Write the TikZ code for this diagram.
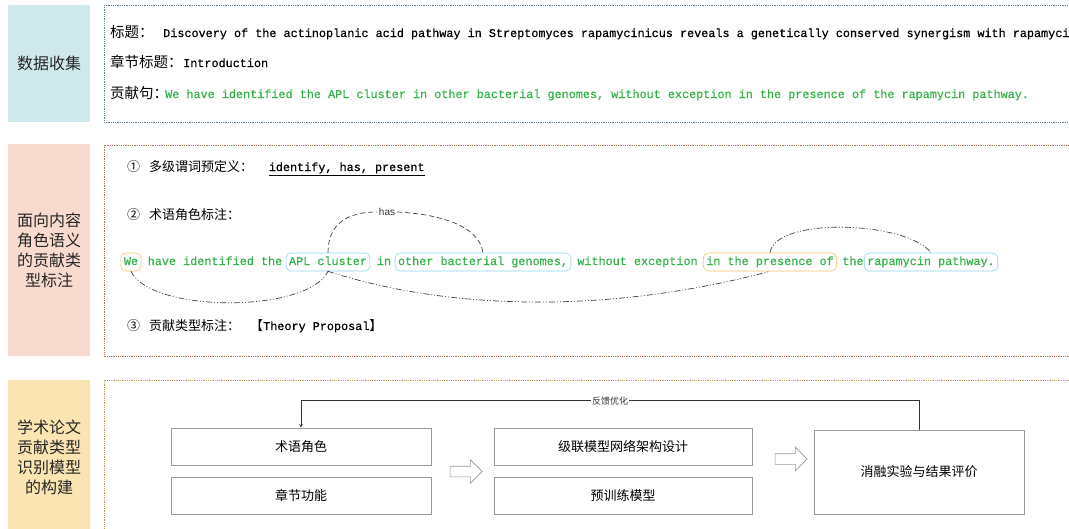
\documentclass[tikz,border=0pt]{standalone}
\usepackage{fontspec}
\setmonofont{Liberation Mono}[FakeBold=0.5]
\newfontfamily\cjk{Noto Sans CJK SC}
\newfontfamily\hasfont{Liberation Sans}
\usetikzlibrary{arrows,shapes.arrows}
\definecolor{tealbg}{RGB}{207,232,235}
\definecolor{salmonbg}{RGB}{248,219,206}
\definecolor{sandbg}{RGB}{250,229,178}
\definecolor{frameA}{RGB}{95,125,150}
\definecolor{frameB}{RGB}{190,110,75}
\definecolor{frameC}{RGB}{185,160,80}
\definecolor{sentgreen}{RGB}{55,178,75}
\definecolor{roleblue}{RGB}{140,210,235}
\definecolor{roleorange}{RGB}{245,195,105}
\newcommand{\zhL}{\cjk\fontsize{16}{20}\selectfont}
\newcommand{\zhA}{\cjk\fontsize{14.5}{16}\selectfont}
\newcommand{\zhB}{\cjk\fontsize{13}{15}\selectfont}
\newcommand{\zhS}{\cjk\fontsize{9}{10}\selectfont}
\newcommand{\mono}{\ttfamily\fontsize{11.8}{14}\selectfont}
\tikzstyle{stage} = [inner sep=0pt, minimum width=82pt, align=center, text=black!85, font=\zhL]
\tikzstyle{frame} = [densely dotted, line width=0.8pt]
\tikzstyle{txtline} = [anchor=base west, inner sep=0pt, font=\mono]
\tikzstyle{word} = [inner sep=0pt, text=sentgreen, font=\mono, text height=8pt, text depth=2pt]
\tikzstyle{role} = [word, rounded corners=5pt, inner xsep=3pt, minimum height=18pt, line width=0.6pt]
\tikzstyle{link} = [dash pattern=on 5pt off 3pt, black!75, line width=0.7pt]
\tikzstyle{chain} = [dash pattern=on 6pt off 2pt on 1pt off 2pt on 1pt off 2pt, black!75, line width=0.7pt]
\tikzstyle{blk} = [draw=gray!80, line width=0.6pt, font=\zhB, minimum height=37pt]
\tikzstyle{hollow} = [single arrow, draw=gray!80, fill=white, line width=0.6pt, minimum height=32pt, inner xsep=0pt, inner ysep=5pt, single arrow head extend=6.5pt]
\tikzstyle{fleche} = [->,>=stealth,line width=0.7pt,black!80]

\begin{document}
\begin{tikzpicture}[x=1pt,y=-1pt]
	\useasboundingbox (0,0) rectangle (1069,528);
	\clip (0,0) rectangle (1069,528);

	% stages on the left
	\node[stage, fill=tealbg, minimum height=117pt] (lblA) at (49,63.5) {数据收集};
	\node[stage, fill=salmonbg, minimum height=212pt] (lblB) at (49,250) {面向内容\\角色语义\\的贡献类\\型标注};
	\node[stage, fill=sandbg, minimum height=155pt] (lblC) at (49,457.5) {学术论文\\贡献类型\\识别模型\\的构建};

	\draw[frame, frameA] (104,5) rectangle (1080,122);
	\draw[frame, frameB] (104,145) rectangle (1080,356);
	\draw[frame, frameC] (104,380) rectangle (1080,540);

	% data collection
	\node[txtline] (title) at (110,37) {\makebox[53pt][l]{\zhA 标题：}Discovery of the actinoplanic acid pathway in Streptomyces rapamycinicus reveals a genetically conserved synergism with rapamycin};
	\node[txtline] (section) at (110,67) {\makebox[73pt][l]{\zhA 章节标题：}Introduction};
	\node[txtline] (contrib) at (110,98) {\makebox[55pt][l]{\zhA 贡献句：}\textcolor{sentgreen}{We have identified the APL cluster in other bacterial genomes, without exception in the presence of the rapamycin pathway.}};

	% annotation
	\node[txtline] (predef) at (127,171) {\makebox[22pt][l]{\zhB ①}\makebox[119.6pt][l]{\zhB 多级谓词预定义：}\underline{identify, has, present}};
	\node[txtline] (roles) at (127,219) {\makebox[22pt][l]{\zhB ②}{\zhB 术语角色标注：}};
	\node[txtline] (ctype) at (127,330) {\makebox[22pt][l]{\zhB ③}\makebox[101pt][l]{\zhB 贡献类型标注：}{\zhB 【}Theory Proposal{\zhB 】}};

	\node[role, draw=roleorange] (we) at (131,262) {We};
	\node[word] (have) at (215,262) {have identified the};
	\node[role, draw=roleblue] (apl) at (328,262) {APL cluster};
	\node[word] (in) at (384,262) {in};
	\node[role, draw=roleblue] (gen) at (483,262) {other bacterial genomes,};
	\node[word] (without) at (637.5,262) {without exception};
	\node[role, draw=roleorange] (pres) at (770,262) {in the presence of};
	\node[word] (the) at (853,262) {the};
	\node[role, draw=roleblue] (path) at (931,262) {rapamycin pathway.};

	\node[inner sep=2pt, text=black!80, font=\hasfont\fontsize{10}{11}\selectfont] (has) at (387,212) {has};

	\draw[link] (apl.north) .. controls +(0,-30) and +(-28,0) .. (has.west);
	\draw[link] (has.east) .. controls +(40,2) and +(-4,-28) .. (gen.north);
	\draw[chain] (we.south) .. controls +(20,42) and +(-20,42) .. (apl.south);
	\draw[chain] (apl.south) .. controls +(130,42) and +(-150,40) .. (pres.south);
	\draw[chain] (pres.north) .. controls +(5,-36) and +(-25,-32) .. (path.north);

	% model construction
	\node[blk, minimum width=260pt] (term) at (301,446.5) {术语角色};
	\node[blk, minimum width=260pt] (sect) at (301,495.5) {章节功能};
	\node[blk, minimum width=258pt] (casc) at (623,446.5) {级联模型网络架构设计};
	\node[blk, minimum width=258pt] (pre) at (623,495.5) {预训练模型};
	\node[blk, minimum width=210pt, minimum height=84pt] (res) at (919,472) {消融实验与结果评价};

	\node[hollow] (arrA) at (463.5,471.5) {};
	\node[hollow] (arrB) at (788.5,459) {};

	\draw[fleche] (res.north) -- ++(0,-29) -| node[pos=0.25, fill=white, inner sep=1pt, font=\zhS] (fb) {反馈优化} (term.north);

\end{tikzpicture}
\end{document}
